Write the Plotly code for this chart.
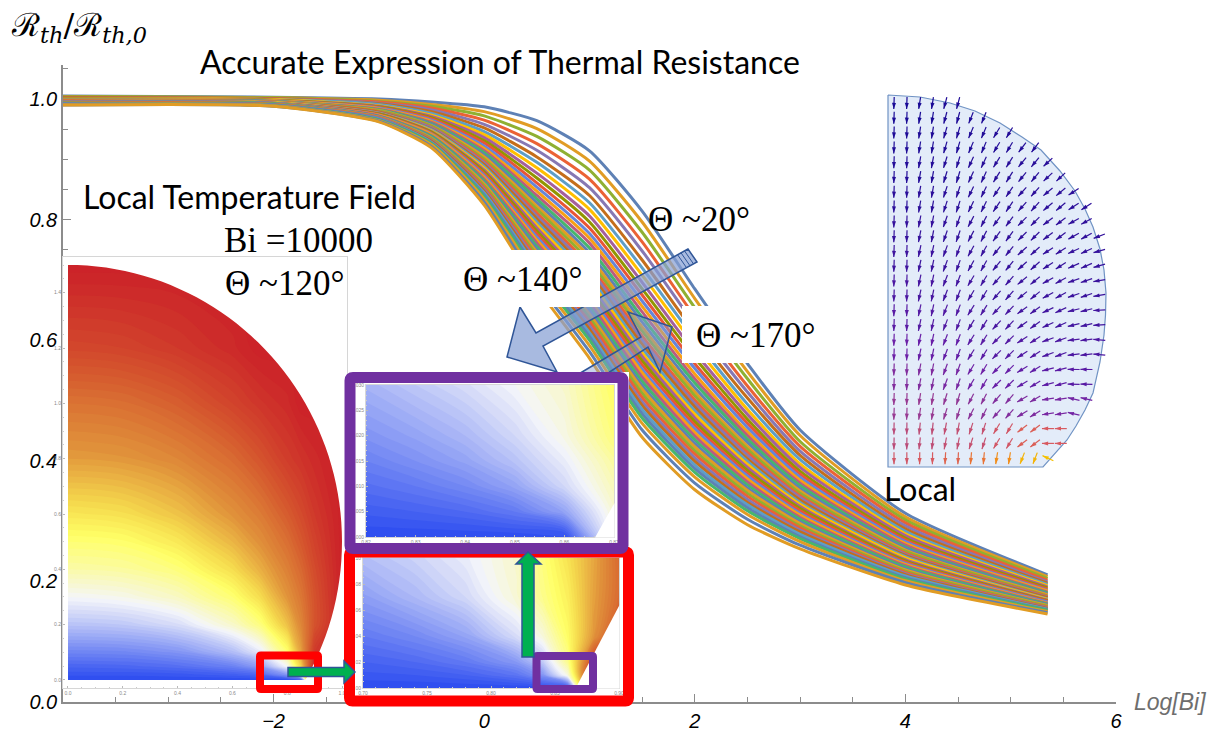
import math
import numpy as np
import plotly.graph_objects as go

W, H = 1215, 734

# ---------- main chart data ----------
LOG_BI = [-4, -2, -1, -0.5, 0, 0.5, 1, 1.5, 2, 2.5, 3, 4, 5.35]
CURVES = [
 [1.005,1.003,1.000,.995,.987,.964,.914,.814,.685,.561,.451,.313,.211],
 [1.004,1.002,.998,.991,.979,.951,.897,.796,.669,.548,.442,.307,.208],
 [1.004,1.002,.996,.988,.972,.938,.882,.779,.654,.536,.432,.302,.205],
 [1.003,1.001,.995,.985,.965,.926,.867,.763,.639,.524,.424,.297,.202],
 [1.002,1.000,.993,.982,.958,.915,.853,.748,.626,.514,.416,.292,.199],
 [1.002,1.000,.992,.979,.952,.904,.840,.733,.613,.504,.409,.287,.197],
 [1.001,.999,.991,.976,.946,.895,.828,.720,.602,.494,.402,.283,.195],
 [1.001,.999,.989,.973,.941,.886,.817,.708,.591,.485,.395,.279,.193],
 [1.000,.998,.988,.971,.936,.877,.806,.696,.580,.477,.389,.276,.191],
 [1.000,.998,.987,.969,.931,.869,.796,.685,.571,.469,.383,.272,.189],
 [.999,.997,.986,.967,.927,.861,.786,.675,.561,.462,.378,.269,.187],
 [.999,.997,.985,.965,.922,.854,.777,.665,.553,.455,.373,.266,.185],
 [.999,.997,.984,.963,.918,.847,.769,.656,.544,.448,.368,.263,.184],
 [.998,.996,.983,.961,.914,.840,.761,.647,.536,.442,.363,.260,.182],
 [.998,.996,.982,.959,.911,.834,.753,.638,.529,.436,.359,.257,.181],
 [.998,.996,.981,.958,.907,.828,.745,.630,.521,.430,.354,.255,.179],
 [.997,.995,.981,.956,.904,.822,.738,.622,.514,.424,.350,.252,.178],
 [.997,.995,.980,.955,.900,.817,.731,.615,.508,.419,.346,.250,.176],
 [.997,.995,.979,.953,.897,.811,.724,.607,.501,.414,.342,.247,.175],
 [.996,.994,.978,.952,.894,.806,.718,.600,.495,.409,.339,.245,.174],
 [.996,.994,.978,.950,.891,.801,.711,.593,.489,.403,.335,.243,.173],
 [.996,.994,.977,.949,.888,.796,.705,.586,.483,.399,.331,.241,.171],
 [.996,.994,.976,.947,.885,.791,.699,.579,.477,.394,.328,.239,.170],
 [.995,.993,.976,.946,.882,.786,.692,.573,.471,.389,.324,.236,.169],
 [.995,.993,.975,.945,.879,.781,.686,.566,.465,.384,.321,.234,.168],
 [.995,.993,.974,.943,.876,.776,.680,.559,.459,.379,.317,.232,.167],
 [.995,.993,.973,.942,.873,.771,.674,.552,.453,.375,.313,.230,.166],
 [.994,.992,.973,.941,.870,.766,.668,.546,.447,.370,.310,.228,.164],
 [.994,.992,.972,.939,.867,.761,.662,.539,.441,.365,.306,.226,.163],
 [.994,.992,.971,.938,.864,.756,.655,.532,.435,.360,.303,.224,.162],
 [.993,.991,.971,.936,.861,.751,.649,.525,.429,.355,.299,.221,.161],
 [.993,.991,.970,.935,.859,.746,.643,.519,.423,.351,.296,.219,.160],
 [.993,.991,.969,.934,.856,.741,.637,.512,.417,.346,.292,.217,.159],
 [.993,.991,.969,.932,.853,.736,.631,.505,.411,.341,.289,.215,.157],
 [.992,.990,.968,.931,.850,.731,.624,.498,.405,.336,.285,.213,.156],
 [.992,.990,.967,.930,.847,.726,.618,.492,.399,.331,.282,.211,.155],
 [.992,.990,.967,.928,.844,.721,.612,.485,.393,.327,.278,.209,.154],
 [.992,.990,.966,.927,.841,.716,.606,.478,.387,.322,.274,.206,.153],
 [.991,.989,.965,.926,.838,.711,.600,.471,.381,.317,.271,.204,.152],
 [.991,.989,.964,.924,.834,.704,.591,.462,.373,.311,.266,.201,.150],
 [.990,.988,.963,.921,.829,.696,.581,.451,.363,.303,.260,.198,.148],
 [.990,.988,.962,.919,.824,.687,.570,.439,.352,.294,.254,.194,.146],
]
CURVE_COLORS = ["#5E81B5","#E19C24","#8FB032","#EB6235","#8778B3","#C56E1A","#5D9EC7","#FFBF00",
                "#A5609D","#929600","#E95536","#6685D9","#F89F13","#BC5B80","#47B66D"]
LAST_CURVE_COLORS = ["#5E81B5","#47B66D","#E19C24","#5E81B5","#E19C24"]

# ---------- temperature field insets ----------
FIELD_X = [0, .2, .4, .6, .7, .8, .85, .9, 1.0]
FIELD_Y = [0, .02, .05, .1, .2, .3, .4, .5, .6, .8, 1.0, 1.2, 1.5]
FIELD_Z = [
 [0,0,0,0,0,0,0,1,1],
 [.02,.02,.025,.04,.06,.15,.435,1,1],
 [.05,.055,.07,.105,.16,.335,.59,1,1],
 [.11,.115,.14,.215,.30,.48,.68,.93,1],
 [.23,.24,.28,.38,.465,.625,.735,.86,1],
 [.33,.345,.39,.48,.57,.705,.77,.86,1],
 [.42,.43,.47,.57,.655,.75,.805,.88,1],
 [.48,.49,.545,.645,.715,.79,.845,.905,1],
 [.55,.565,.62,.71,.76,.835,.88,.93,1],
 [.69,.70,.735,.80,.855,.92,.945,.97,1],
 [.78,.79,.83,.90,.94,.97,1,1,1],
 [.89,.90,.93,.97,1,1,1,1,1],
 [1,1,1,1,1,1,1,1,1],
]
ZOOM1_X = [.70, .74, .78, .82, .84, .86, .88, .90]
ZOOM1_Y = [0, .01, .02, .04, .07, .10]
ZOOM1_Z = [
 [0,0,0,0,0,0,1,1],
 [.025,.03,.045,.08,.14,.36,1,1],
 [.045,.06,.09,.15,.24,.45,.9,1],
 [.09,.12,.17,.28,.36,.50,.70,.90],
 [.16,.21,.27,.37,.45,.53,.68,.80],
 [.22,.26,.31,.38,.47,.56,.67,.80],
]
ZOOM2_X = [.82, .83, .84, .85, .86, .87]
ZOOM2_Y = [0, .005, .01, .015, .02, .03]
ZOOM2_Z = [
 [0,0,0,0,0,.35],
 [.035,.045,.06,.09,.17,.37],
 [.07,.09,.12,.17,.27,.40],
 [.105,.135,.17,.23,.31,.43],
 [.14,.17,.21,.27,.35,.47],
 [.20,.24,.28,.33,.38,.50],
]
TEMP_SCALE = [[0,"#2B4BF0"],[.33,"#F4F5FA"],[.5,"#FFFF66"],[.58,"#F6DC4E"],
              [.72,"#E0903A"],[.85,"#D5592E"],[1,"#CC2329"]]

# ---------- flux panel (13 x 9 table: one cell per 2 x 2 arrows) ----------
ROW_COUNTS = [6,8,10,12,13,14,15,16,16,17,17,17,17,17,17,17,17,17,16,16,16,15,14,14,13]
FLUX_ANGLE = [
 [2,9,15,22,29,35,41,48,54],
 [2,9,16,23,31,37,44,51,57],
 [2,10,17,25,32,39,47,54,61],
 [2,10,18,26,34,42,50,57,65],
 [2,11,19,28,36,45,53,61,69],
 [2,12,20,29,39,48,57,66,74],
 [2,12,21,31,41,51,61,71,80],
 [2,12,21,32,43,54,65,76,87],
 [2,12,21,32,45,57,70,83,95],
 [2,11,20,31,45,59,75,91,105],
 [2,9,17,27,41,59,81,103,120],
 [1,6,11,18,31,53,90,123,141],
 [0,1,3,5,9,21,115,150,170],
]
FLUX_COLOR = [
 [.00,.00,.02,.02,.03,.03,.04,.04,.04],
 [.02,.02,.03,.03,.04,.05,.05,.05,.05],
 [.05,.05,.05,.06,.06,.06,.07,.07,.07],
 [.08,.08,.08,.08,.08,.08,.08,.08,.08],
 [.12,.12,.11,.10,.10,.10,.10,.10,.10],
 [.16,.15,.14,.13,.12,.12,.12,.12,.12],
 [.22,.20,.18,.17,.15,.14,.14,.14,.14],
 [.28,.26,.24,.22,.20,.18,.17,.17,.17],
 [.36,.34,.32,.28,.26,.24,.22,.22,.22],
 [.44,.43,.40,.37,.34,.31,.29,.27,.27],
 [.52,.52,.50,.47,.44,.42,.40,.38,.38],
 [.62,.63,.64,.65,.68,.72,.70,.60,.50],
 [.68,.70,.74,.80,.88,.97,1.0,.90,.80],
]
FLUX_STOPS = [(0,(26,10,150)),(.35,(106,31,168)),(.55,(160,64,143)),(.7,(216,90,96)),(.85,(240,128,32)),(1,(245,192,0))]
CAP_RIM = [(888,95),(920,97),(950,103),(975,111),(1000,123),(1022,137),(1041,150),(1060,171),(1075,191),(1085,209),
           (1093,227),(1100,249),(1104,270),(1106,293),(1105.5,315),(1104,335),(1100,362),(1093,393),(1085,410),
           (1076,426),(1067,440),(1055,454),(1043,467),(888,467),(888,95)]

# ---------- layout helpers ----------
def xdom(a, b): return [a / W, b / W]
def ydom(t, b): return [1 - b / H, 1 - t / H]
X0, X1, Y0, Y1 = 63, 1116, 702, 65
def data_x(px): return -4 + (px - X0) / (X1 - X0) * 10
YMAX = (Y0 - Y1) / 603
def data_y(py): return (Y0 - py) / 603

fig = go.Figure()

# main curves
n_curves = len(CURVES)
for i, row in enumerate(CURVES):
    tail = i - (n_curves - len(LAST_CURVE_COLORS))
    color = LAST_CURVE_COLORS[tail] if tail >= 0 else CURVE_COLORS[i % 15]
    fig.add_trace(go.Scatter(x=LOG_BI, y=row, mode="lines", hoverinfo="skip", showlegend=False,
                             line=dict(color=color, width=3, shape="spline", smoothing=0.6)))
# white backing of the insets, inside the main plot
rx, ry = [], []
for a, t, b, c in [(62, 257, 347, 693), (345, 550, 635, 702), (345, 372, 629, 554)]:
    rx += [data_x(a), data_x(b), data_x(b), data_x(a), data_x(a), None]
    ry += [data_y(t), data_y(t), data_y(c), data_y(c), data_y(t), None]
fig.add_trace(go.Scatter(x=rx, y=ry, mode="lines", fill="toself", fillcolor="white", line=dict(width=0),
                         hoverinfo="skip", showlegend=False))

def field(x, y, z, xa, ya):
    return go.Contour(x=x, y=y, z=z, xaxis=xa, yaxis=ya, colorscale=TEMP_SCALE, zmin=0, zmax=1, zauto=False,
                      showscale=False, hoverinfo="skip", line=dict(width=0),
                      contours=dict(coloring="fill", start=0, end=1, size=0.015, showlines=False))
fig.add_trace(field(FIELD_X, FIELD_Y, FIELD_Z, "x2", "y2"))
fig.add_trace(field(ZOOM1_X, ZOOM1_Y, ZOOM1_Z, "x3", "y3"))
fig.add_trace(field(ZOOM2_X, ZOOM2_Y, ZOOM2_Z, "x4", "y4"))

# flux panel on a pixel-coordinate overlay
fig.add_trace(go.Scatter(x=[p[0] for p in CAP_RIM], y=[p[1] for p in CAP_RIM], xaxis="x5", yaxis="y5", mode="lines",
                         fill="toself", fillcolor="#E3ECF9", line=dict(color="#7093C4", width=1.2),
                         hoverinfo="skip", showlegend=False))
def flux_rgb(c):
    for (a, ca), (b, cb) in zip(FLUX_STOPS, FLUX_STOPS[1:]):
        if c <= b:
            t = (c - a) / (b - a)
            return "rgb(%d,%d,%d)" % tuple(round(ca[k] + t * (cb[k] - ca[k])) for k in range(3))
    return "rgb(245,192,0)"
shafts, hx, hy, ha, hc = {}, [], [], [], []
LEN = 12
for r, n in enumerate(ROW_COUNTS):
    py = 103 + 14.8 * r
    for i in range(n):
        px = 894 + 12.83 * i
        ang = FLUX_ANGLE[r // 2][i // 2]
        col = flux_rgb(FLUX_COLOR[r // 2][i // 2])
        dx, dy = -math.sin(math.radians(ang)), math.cos(math.radians(ang))
        s = shafts.setdefault(col, ([], []))
        s[0].extend([px - dx * LEN / 2, px + dx * LEN / 2, None])
        s[1].extend([py - dy * LEN / 2, py + dy * LEN / 2, None])
        hx.append(px + dx * LEN / 2); hy.append(py + dy * LEN / 2); ha.append(180 + ang); hc.append(col)
for col, (sx, sy) in shafts.items():
    fig.add_trace(go.Scatter(x=sx, y=sy, xaxis="x5", yaxis="y5", mode="lines", line=dict(color=col, width=1.2),
                             hoverinfo="skip", showlegend=False))
fig.add_trace(go.Scatter(x=hx, y=hy, xaxis="x5", yaxis="y5", mode="markers", hoverinfo="skip", showlegend=False,
                         marker=dict(symbol="arrow", size=6.5, angle=ha, color=hc, line=dict(width=0))))

# ---------- shapes, all in pixel coordinates ----------
def path(pts, close=True):
    return "M" + "L".join("%.1f,%.1f" % p for p in pts) + ("Z" if close else "")
def sh(d, fill=None, line=None, width=0):
    s = dict(type="path", path=d, xref="x5", yref="y5", layer="above", line=dict(width=width, color=line or "rgba(0,0,0,0)"))
    if fill: s["fillcolor"] = fill
    return s
def rrect(a, t, b, c, r=3):
    return (f"M{a+r},{t}L{b-r},{t}Q{b},{t} {b},{t+r}L{b},{c-r}Q{b},{c} {b-r},{c}L{a+r},{c}Q{a},{c} {a},{c-r}"
            f"L{a},{t+r}Q{a},{t} {a+r},{t}Z")

shapes = []
# outside of the droplet cap in the large field
th = np.radians(np.arange(0, 121, 2.0))
cap = [(68 + 274 * math.sin(a), 680 - 276.7 * (0.5 + math.cos(a))) for a in th]
shapes.append(sh(path(cap + [(346, 681), (346, 264)]), fill="white"))
# white wedge in each zoom
shapes.append(sh(path([(575.5, 688.5), (619.5, 605), (619.5, 688.5)]), fill="white"))
shapes.append(sh(path([(595, 537.5), (614.5, 503), (614.5, 537.5)]), fill="white"))
# arrows
BLUE = "#2F5597"
shapes.append(sh(path([(688,249),(536,333),(520,307),(507,357),(557,372),(543,346),(697,262)]),
                 fill="rgba(135,160,212,0.72)", line=BLUE, width=1.5))
for k in (4, 8, 12):
    shapes.append(sh(path([(688-.87*k, 249+.48*k), (697-.87*k, 262+.48*k)], close=False), line=BLUE, width=1))
shapes.append(sh(path([(577,375),(641,337),(628,312),(672,327),(660,372),(648,347),(605,375)]),
                 fill="rgba(135,160,212,0.45)", line=BLUE, width=1.5))
# label backgrounds
shapes.append(sh(path([(460,250),(600,250),(600,307),(460,307)]), fill="white"))
shapes.append(sh(path([(682,306),(817,306),(817,363),(682,363)]), fill="white"))
# frames
shapes.append(sh(rrect(349.5, 552, 628.5, 701), line="#FF0000", width=11))
shapes.append(sh(rrect(260, 655.5, 318, 689, 1), line="#FF0000", width=8))
shapes.append(sh(rrect(536.5, 656, 593, 689, 1), line="#7030A0", width=8))
shapes.append(sh(rrect(350, 377.5, 623, 548.5), line="#7030A0", width=11))
# green arrows
shapes.append(sh(path([(288,667.5),(344,667.5),(344,661),(355,672),(344,683),(344,676.5),(288,676.5)]),
                 fill="#00B050", line=BLUE, width=1.5))
shapes.append(sh(path([(522,657),(522,564),(516,564),(528,552),(541,564),(534,564),(534,657)]),
                 fill="#00B050", line=BLUE, width=1.5))

# ---------- text ----------
def note(text, x, y, size, family, color="black", italic=False):
    return dict(text=text, x=x, y=y, xref="x5", yref="y5", xanchor="left", yanchor="middle", showarrow=False,
                font=dict(size=size, family=family, color=color, style="italic" if italic else "normal"))
SERIF = "Liberation Serif"
SANS = "Lato"
annotations = [
    note("ℛ<sub><i>th</i></sub>/ℛ<sub><i>th,0</i></sub>", 9, 27, 32, "DejaVu Serif"),
    note("Accurate Expression of Thermal Resistance", 198, 61, 32, SANS),
    note("Local Temperature Field", 81, 196, 32, SANS),
    note("Bi =10000", 222, 240, 35, SERIF),
    note("Θ ~120°", 223, 283, 35, SERIF),
    note("Θ ~20°", 646, 219, 35, SERIF),
    note("Θ ~140°", 461, 279, 35, SERIF),
    note("Θ ~170°", 694, 335, 35, SERIF),
    note("Local", 882, 488, 32, SANS),
    note("Log[Bi]", 1132, 702, 23, "Liberation Sans", color="#6E6E6E", italic=True),
]

AX = "#8C8C8C"
TICKFONT = dict(size=20, family="Liberation Sans", color="black", style="italic")
SMALL = dict(size=5, family="Liberation Sans", color="#8A8A8A")
def inset_axis(dom, rng, dtick, fmt, anchor, minor):
    return dict(domain=dom, range=rng, dtick=dtick, tickformat=fmt, anchor=anchor, showgrid=False, zeroline=False,
                automargin=False, showline=True, linecolor="#D6D6D6", linewidth=1, mirror=True, ticks="inside", ticklen=2,
                tickcolor="#BBBBBB", tickwidth=0.6, tickfont=SMALL, ticklabelstandoff=0,
                minor=dict(dtick=minor, ticks="inside", ticklen=1, tickcolor="#CCCCCC", tickwidth=0.5, showgrid=False))

fig.update_layout(
    template="none",
    width=W, height=H, margin=dict(l=0, r=0, t=0, b=0), paper_bgcolor="white", plot_bgcolor="rgba(0,0,0,0)",
    showlegend=False, shapes=shapes, annotations=annotations,
    xaxis=dict(domain=xdom(X0, X1), range=[-4, 6], tickvals=[-2, 0, 2, 4, 6], showgrid=False, zeroline=False,
               automargin=False, showline=True, linecolor=AX, linewidth=1.5, ticks="inside", ticklen=8, tickcolor=AX, tickwidth=1,
               tickfont=TICKFONT, ticklabelstandoff=0, layer="below traces", anchor="y",
               minor=dict(dtick=0.5, ticks="inside", ticklen=5, tickcolor=AX, tickwidth=1, showgrid=False)),
    yaxis=dict(domain=ydom(Y1, Y0), range=[0, YMAX], dtick=0.2, tickformat=".1f", showgrid=False, zeroline=False,
               automargin=False, showline=True, linecolor=AX, linewidth=1.5, ticks="inside", ticklen=8, tickcolor=AX, tickwidth=1,
               tickfont=TICKFONT, ticklabelstandoff=0, layer="below traces", anchor="x",
               minor=dict(dtick=0.05, ticks="inside", ticklen=5, tickcolor=AX, tickwidth=1, showgrid=False)),
    xaxis2=inset_axis(xdom(63, 347), [-0.018, 1.018], 0.2, ".1f", "y2", 0.05),
    yaxis2=inset_axis(ydom(257, 688), [-0.029, 1.529], 0.2, ".1f", "x2", 0.05),
    xaxis3=inset_axis(xdom(363, 619), [.70, .90], 0.05, ".2f", "y3", 0.01),
    yaxis3=inset_axis(ydom(558, 688), [0, .10], 0.02, ".2f", "x3", 0.005),
    xaxis4=inset_axis(xdom(366, 614), [.82, .87], 0.01, ".2f", "y4", 0.002),
    yaxis4=inset_axis(ydom(385, 537), [0, .03], 0.005, ".3f", "x4", 0.001),
    xaxis5=dict(domain=[0, 1], range=[0, W], visible=False, anchor="y5", automargin=False),
    yaxis5=dict(domain=[0, 1], range=[H, 0], visible=False, anchor="x5", automargin=False),
)
fig.write_html("out.html", config=dict(displayModeBar=False), post_script="document.body.style.margin='0';")
